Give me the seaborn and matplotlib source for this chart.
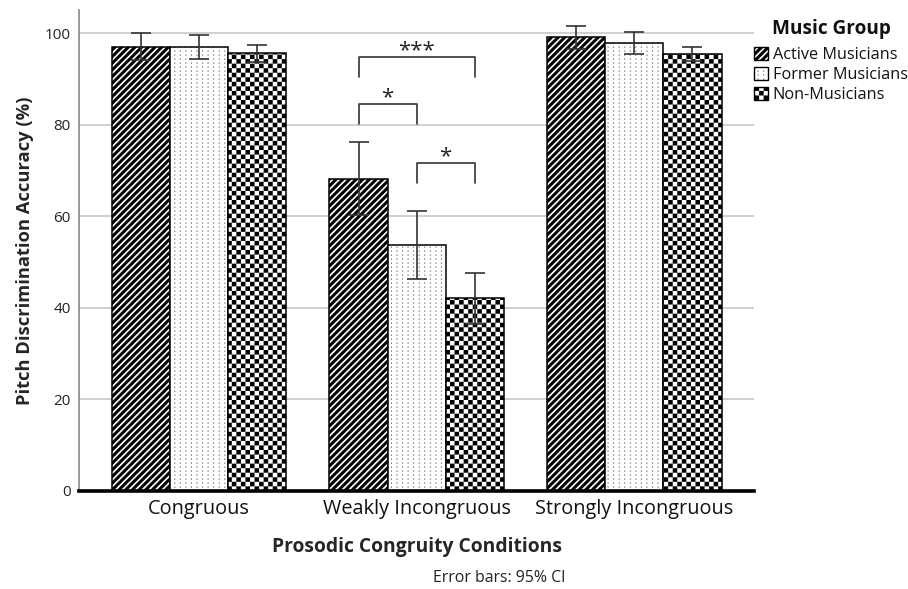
import numpy as np
import pandas as pd
import matplotlib
matplotlib.use("Agg")
import matplotlib.pyplot as plt
import matplotlib.hatch as mhatch
import matplotlib.colors as mcolors
from matplotlib.path import Path
from matplotlib.patches import Patch
import seaborn as sns

# ─── Data ─────────────────────────────────────────────────────────

CONDITIONS = ["Congruous", "Weakly Incongruous", "Strongly Incongruous"]
GROUPS     = ["Active Musicians", "Former Musicians", "Non-Musicians"]

# mean pitch discrimination accuracy (%) per condition
ACTIVE = [97.1, 68.2, 99.1]
FORMER = [97.1, 53.8, 97.9]
NONMUS = [95.6, 42.1, 95.5]

# 95% CI half-widths
ACTIVE_CI = [2.9, 8.0, 2.6]
FORMER_CI = [2.6, 7.4, 2.4]
NONMUS_CI = [1.9, 5.6, 1.6]

# significance brackets inside "Weakly Incongruous"
SIG_LEFT  = [0, 0, 1]
SIG_RIGHT = [2, 1, 2]
SIG_Y     = [94.8, 84.6, 71.6]
SIG_TEXT  = ["***", "*", "*"]

# ─── Custom hatches (SPSS-like stripes / dots / checkerboard) ─────

def _stripes(n=15, w=0.64):
    verts, codes = [], []
    for k in range(-n - 1, n + 1):
        c = k / n
        verts += [(c, 0), (c + w / n, 0), (c + w / n + 1, 1), (c + 1, 1), (c, 0)]
        codes += [Path.MOVETO, Path.LINETO, Path.LINETO, Path.LINETO, Path.CLOSEPOLY]
    return Path(verts, codes)


def _dots(nx=18, ny=25, dw=0.011, dh=0.016):
    verts, codes = [], []
    for i in range(nx):
        for j in range(ny):
            x, y = i / nx + 0.02, j / ny
            verts += [(x, y), (x + dw, y), (x + dw, y + dh), (x, y + dh), (x, y)]
            codes += [Path.MOVETO, Path.LINETO, Path.LINETO, Path.LINETO, Path.CLOSEPOLY]
    return Path(verts, codes)


def _checker(n=22):
    s = 1 / n
    verts, codes = [], []
    for i in range(n):
        for j in range(n):
            if (i + j) % 2 == 0:
                x, y = i * s, j * s
                verts += [(x, y), (x + s, y), (x + s, y + s), (x, y + s), (x, y)]
                codes += [Path.MOVETO, Path.LINETO, Path.LINETO, Path.LINETO, Path.CLOSEPOLY]
    return Path(verts, codes)


_CUSTOM = {"/": _stripes(), ".": _dots(), "+": _checker()}
_orig_get_path = mhatch.get_path


def _get_path(pattern, density=6):
    if pattern in _CUSTOM:
        return _CUSTOM[pattern]
    return _orig_get_path(pattern, density)


mhatch.get_path = _get_path

HATCHES   = {"Active Musicians": "/", "Former Musicians": ".", "Non-Musicians": "+"}
HATCH_COL = {"Active Musicians": "black", "Former Musicians": "#8a8a8a", "Non-Musicians": "black"}

# ─── Style ────────────────────────────────────────────────────────

sns.set_theme(style="white")
plt.rcParams["font.family"] = ["Open Sans", "DejaVu Sans"]
plt.rcParams["hatch.linewidth"] = 0.01
plt.rcParams["text.color"] = "#111111"

df = pd.DataFrame({
    "condition": CONDITIONS * 3,
    "group":     [g for g in GROUPS for _ in CONDITIONS],
    "accuracy":  ACTIVE + FORMER + NONMUS,
    "ci":        ACTIVE_CI + FORMER_CI + NONMUS_CI,
})

fig = plt.figure(figsize=(9.08, 5.89), dpi=100)
ax = fig.add_axes([0.087, 0.1664, 0.7436, 0.8166])

sns.barplot(
    data=df, x="condition", y="accuracy", hue="group",
    order=CONDITIONS, hue_order=GROUPS,
    palette={g: "white" for g in GROUPS}, saturation=1,
    errorbar=None, width=0.8, gap=0,
    edgecolor="black", linewidth=1.1,
    legend=False, ax=ax, zorder=3,
)

# hatches + CI error bars
ci_lookup = df.set_index(["group", "condition"])["ci"]
centers = {}
for cont, grp in zip(ax.containers, GROUPS):
    xs, ys, es = [], [], []
    for p in cont:
        p.set_hatch(HATCHES[grp])
        p._hatch_color = mcolors.to_rgba(HATCH_COL[grp])
        xc = p.get_x() + p.get_width() / 2
        cond = CONDITIONS[int(round(xc))]
        centers[(grp, cond)] = xc
        xs.append(xc)
        ys.append(p.get_height())
        es.append(ci_lookup[(grp, cond)])
    ax.errorbar(xs, ys, yerr=es, fmt="none", ecolor="#333333",
                elinewidth=1.2, capsize=7, capthick=1.2, zorder=5)

# significance brackets
for lo, hi, y, txt in zip(SIG_LEFT, SIG_RIGHT, SIG_Y, SIG_TEXT):
    x1 = centers[(GROUPS[lo], CONDITIONS[1])]
    x2 = centers[(GROUPS[hi], CONDITIONS[1])]
    ax.plot([x1, x1, x2, x2], [y - 4.4, y, y, y - 4.4],
            color="#333333", lw=1.2, zorder=6, solid_joinstyle="round")
    ax.text((x1 + x2) / 2, y - 0.9, txt, ha="center", va="bottom",
            fontsize=16, color="#222222")

# axes
ax.set_xlim(-0.55, 2.55)
ax.set_ylim(0, 105.1)
ax.set_yticks(range(0, 101, 20))
ax.yaxis.grid(True, color="#c4c4c4", lw=1.1, zorder=0)
ax.set_axisbelow(True)
for side in ("top", "right"):
    ax.spines[side].set_visible(False)
ax.spines["left"].set_color("#888888")
ax.spines["left"].set_linewidth(1.2)
ax.spines["bottom"].set_color("black")
ax.spines["bottom"].set_linewidth(2.6)
ax.spines["bottom"].set_zorder(7)
ax.tick_params(axis="both", length=0)
ax.tick_params(axis="y", labelsize=11, pad=6, labelcolor="#222222")
ax.tick_params(axis="x", labelsize=14.3, pad=6, labelcolor="#111111")

ax.set_xlabel("Prosodic Congruity Conditions", fontsize=13.9, fontweight="bold", labelpad=13)
ax.set_ylabel("Pitch Discrimination Accuracy (%)", fontsize=13.2, fontweight="bold", labelpad=8)

fig.text(499 / 908, 1 - 578 / 589, "Error bars: 95% CI", ha="center", va="center",
         fontsize=11.4, color="#222222")

# legend (title drawn separately to match SPSS spacing)
fig.text(831 / 908, 1 - 29 / 589, "Music Group", ha="center", va="center",
         fontsize=13.7, fontweight="bold", color="#111111")
handles = []
for g in GROUPS:
    h = Patch(facecolor="white", edgecolor="black", hatch=HATCHES[g], lw=1.0)
    h._hatch_color = mcolors.to_rgba(HATCH_COL[g])
    handles.append(h)
fig.legend(handles, GROUPS, loc="upper left",
           bbox_to_anchor=(754 / 908, 1 - 47 / 589), frameon=False,
           fontsize=11.7, handlelength=0.85, handleheight=0.85, handletextpad=0.3,
           labelspacing=0.24, borderpad=0, borderaxespad=0)

fig.savefig("out.png", dpi=100, facecolor="white")
